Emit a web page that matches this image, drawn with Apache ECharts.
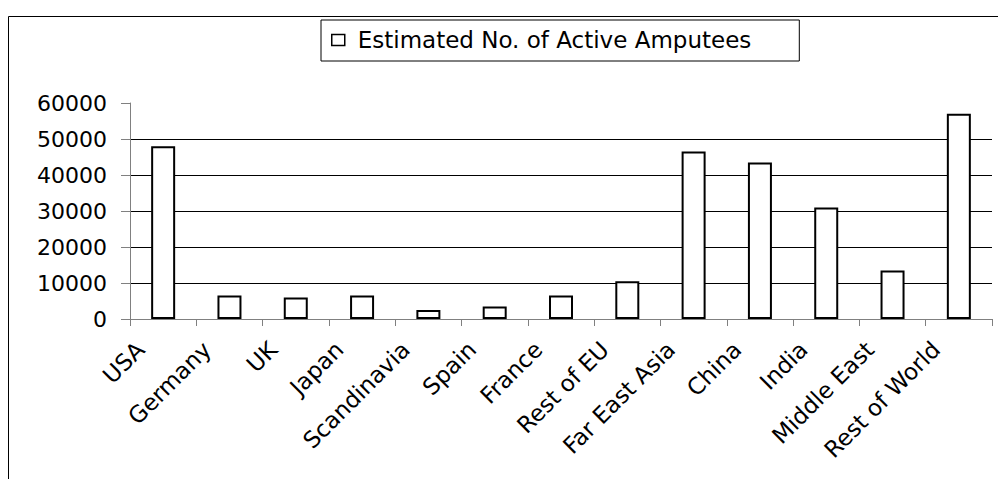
<!DOCTYPE html>
<html>
<head>
<meta charset="utf-8">
<script src="https://cdn.jsdelivr.net/npm/echarts@6/dist/echarts.min.js"></script>
<style>
html,body{margin:0;padding:0;background:#fff;}
#chart{width:998px;height:479px;}
</style>
</head>
<body>
<div id="chart"></div>
<script>
const categories = ['USA','Germany','UK','Japan','Scandinavia','Spain','France','Rest of EU','Far East Asia','China','India','Middle East','Rest of World'];
const seriesName = 'Estimated No. of Active Amputees';
const amputees = [48000, 6500, 6000, 6500, 2500, 3500, 6500, 10500, 46500, 43500, 31000, 13500, 57000];
const yTicks = [0, 10000, 20000, 30000, 40000, 50000, 60000];

const FONT = 'DejaVu Sans';
const chart = echarts.init(document.getElementById('chart'), null, {renderer: 'svg'});
chart.setOption({
  animation: false,
  backgroundColor: '#fff',
  graphic: [{
    type: 'rect', silent: true, z: -1,
    shape: {x: 8.5, y: 16.5, width: 1200, height: 800},
    style: {fill: 'none', stroke: '#000', lineWidth: 1}
  }],
  legend: {
    left: 321, top: 20,
    data: [seriesName],
    orient: 'horizontal',
    borderColor: '#000', borderWidth: 1,
    padding: [8, 48, 9, 10],
    itemWidth: 13, itemHeight: 11,
    icon: 'rect',
    itemStyle: {color: '#fff', borderColor: '#000', borderWidth: 1.5},
    textStyle: {fontFamily: FONT, fontSize: 23, color: '#000', lineHeight: 24, padding: [0, 0, 0, 8]}
  },
  grid: {left: 130, right: 6, top: 103, bottom: 160, containLabel: false},
  xAxis: {
    type: 'category',
    data: categories,
    axisLine: {lineStyle: {color: '#808080', width: 1}},
    axisTick: {show: true, length: 7, lineStyle: {color: '#808080'}},
    axisLabel: {rotate: 45, interval: 0, margin: 4, padding: [0, 32, 0, 0], fontFamily: FONT, fontSize: 23, color: '#000'}
  },
  yAxis: {
    type: 'value',
    min: 0, max: 60000, interval: 10000,
    axisLine: {show: true, lineStyle: {color: '#808080', width: 1}},
    axisTick: {show: true, length: 9, lineStyle: {color: '#808080'}},
    axisLabel: {margin: 23, fontFamily: FONT, fontSize: 22, color: '#000',
      formatter: function (v) { return yTicks.indexOf(v) >= 0 ? String(v) : ''; }},
    splitLine: {show: true, showMaxLine: false, lineStyle: {color: '#000', width: 1}}
  },
  series: [{
    name: seriesName,
    type: 'bar',
    data: amputees,
    barWidth: 24,
    itemStyle: {color: '#fff', borderColor: '#000', borderWidth: 2}
  }]
});
</script>
</body>
</html>
